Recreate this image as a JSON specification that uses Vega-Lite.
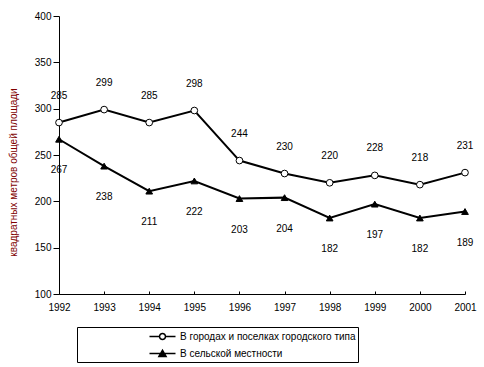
{
  "$schema": "https://vega.github.io/schema/vega-lite/v6.json",
  "width": 406,
  "height": 278,
  "autosize": {"type": "none"},
  "padding": {"left": 59, "top": 16, "right": 19, "bottom": 73},
  "background": "white",
  "config": {
    "view": {"stroke": null},
    "font": "Liberation Sans",
    "axis": {"grid": false, "domainColor": "black", "tickColor": "black", "labelColor": "black", "labelFont": "Liberation Sans", "labelFontSize": 10, "titleFont": "Liberation Sans"},
    "legend": {"orient": "none", "legendX": 18, "legendY": 311, "padding": 2, "strokeColor": "black", "fillColor": "white", "symbolSize": 169, "symbolStrokeColor": "black", "symbolStrokeWidth": 1.5, "symbolOffset": 76, "labelOffset": 10, "labelFont": "Liberation Sans", "labelFontSize": 10, "labelColor": "black", "labelLimit": 400, "rowPadding": 3}
  },
  "data": {
    "values": [
      {"year": 1992, "series": "В городах и поселках городского типа", "value": 285},
      {"year": 1993, "series": "В городах и поселках городского типа", "value": 299},
      {"year": 1994, "series": "В городах и поселках городского типа", "value": 285},
      {"year": 1995, "series": "В городах и поселках городского типа", "value": 298},
      {"year": 1996, "series": "В городах и поселках городского типа", "value": 244},
      {"year": 1997, "series": "В городах и поселках городского типа", "value": 230},
      {"year": 1998, "series": "В городах и поселках городского типа", "value": 220},
      {"year": 1999, "series": "В городах и поселках городского типа", "value": 228},
      {"year": 2000, "series": "В городах и поселках городского типа", "value": 218},
      {"year": 2001, "series": "В городах и поселках городского типа", "value": 231},
      {"year": 1992, "series": "В сельской местности", "value": 267},
      {"year": 1993, "series": "В сельской местности", "value": 238},
      {"year": 1994, "series": "В сельской местности", "value": 211},
      {"year": 1995, "series": "В сельской местности", "value": 222},
      {"year": 1996, "series": "В сельской местности", "value": 203},
      {"year": 1997, "series": "В сельской местности", "value": 204},
      {"year": 1998, "series": "В сельской местности", "value": 182},
      {"year": 1999, "series": "В сельской местности", "value": 197},
      {"year": 2000, "series": "В сельской местности", "value": 182},
      {"year": 2001, "series": "В сельской местности", "value": 189}
    ]
  },
  "encoding": {
    "x": {
      "field": "year", "type": "quantitative",
      "scale": {"domain": [1992, 2001], "nice": false, "zero": false},
      "axis": {"title": null, "format": "d", "values": [1992,1993,1994,1995,1996,1997,1998,1999,2000,2001], "tickSize": -3, "labelPadding": 11, "labelFlush": false}
    },
    "y": {
      "field": "value", "type": "quantitative",
      "scale": {"domain": [100, 400], "nice": false, "zero": false},
      "axis": {"title": "квадратных метров общей площади", "titleColor": "#800000", "titleFontSize": 10, "titleFontWeight": "normal", "titleX": -46, "titleY": 156, "titleAlign": "center", "titleBaseline": "middle", "values": [100,150,200,250,300,350,400], "tickSize": 6, "labelPadding": 2}
    }
  },
  "layer": [
    {
      "mark": {"type": "line", "color": "black", "strokeWidth": 2},
      "encoding": {"detail": {"field": "series"}}
    },
    {
      "mark": {"type": "point", "filled": false, "stroke": "black", "strokeWidth": 1, "opacity": 1},
      "encoding": {
        "shape": {"field": "series", "scale": {"domain": ["В городах и поселках городского типа", "В сельской местности"], "range": ["circle", "triangle-up"]}, "legend": null},
        "fill": {"field": "series", "scale": {"domain": ["В городах и поселках городского типа", "В сельской местности"], "range": ["white", "black"]}, "legend": null},
        "size": {"value": 45}
      }
    },
    {
      "transform": [{"filter": "datum.series === 'В городах и поселках городского типа'"}],
      "mark": {"type": "text", "dy": -27, "fontSize": 10, "color": "black", "font": "Liberation Sans"},
      "encoding": {"text": {"field": "value", "type": "quantitative"}}
    },
    {
      "transform": [{"filter": "datum.series === 'В сельской местности'"}],
      "mark": {"type": "text", "dy": 31, "fontSize": 10, "color": "black", "font": "Liberation Sans"},
      "encoding": {"text": {"field": "value", "type": "quantitative"}}
    },
    {
      "transform": [{"filter": "datum.year < 0"}],
      "mark": {"type": "point", "filled": false, "strokeWidth": 1.5, "opacity": 1},
      "encoding": {
        "shape": {"field": "series", "scale": {"domain": ["В городах и поселках городского типа", "В сельской местности"], "range": ["M-2,0H-0.46A0.46,0.46 0 1,1 0.46,0A0.46,0.46 0 1,1 -0.46,0M0.46,0H2", "M-2,0H2M-0.55,0.45L0,-0.5L0.55,0.45Z"]},
          "legend": {"title": null}},
        "fill": {"field": "series", "scale": {"domain": ["В городах и поселках городского типа", "В сельской местности"], "range": ["white", "black"]},
          "legend": {"title": null}},
        "stroke": {"field": "series", "scale": {"domain": ["В городах и поселках городского типа", "В сельской местности"], "range": ["black", "black"]},
          "legend": {"title": null}},
        "size": {"value": 169}
      }
    }
  ],
  "resolve": {"scale": {"shape": "independent", "fill": "independent", "stroke": "independent"}}
}
